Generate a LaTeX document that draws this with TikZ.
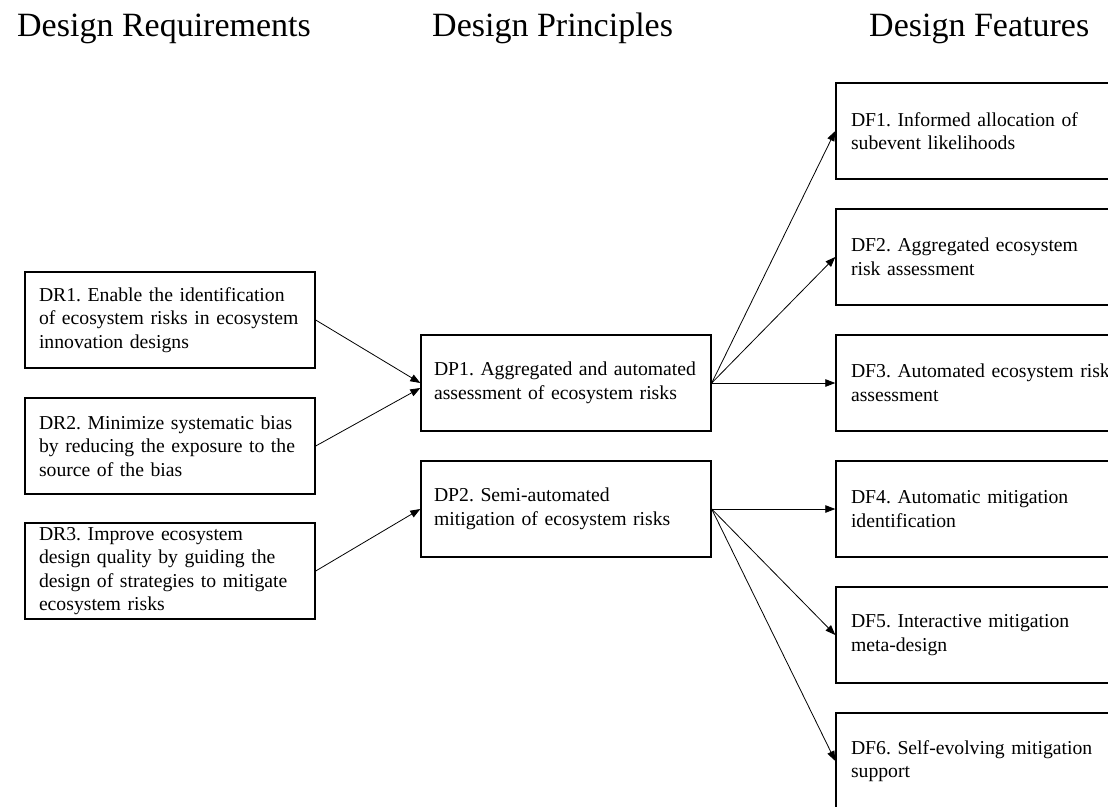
\documentclass[tikz,border=0pt]{standalone}
\usepackage{fontspec}
\setmainfont{Liberation Serif}
\usetikzlibrary{arrows.meta}
\frenchspacing
\hyphenpenalty=10000
\exhyphenpenalty=10000
\tikzset{
  box/.style={draw=black, line width=1.4pt, rectangle, minimum height=96pt,
    inner ysep=1pt, align=left,
    font=\frenchspacing\fontsize{19.7}{23.5}\selectfont},
  rbox/.style={box, minimum width=290pt, inner xsep=14pt, text width=262pt},
  pbox/.style={box, minimum width=290pt, inner xsep=13pt, text width=264pt},
  fbox/.style={box, minimum width=300pt, inner xsep=15pt, text width=270pt},
  head/.style={anchor=base west, inner sep=0pt, font=\fontsize{34}{40}\selectfont},
  conn/.style={line width=0.8pt, -{Triangle[length=10pt,width=7.5pt]}}
}
\begin{document}
\begin{tikzpicture}[x=1pt,y=-1pt]
\useasboundingbox (0,0) rectangle (1108,806);
\clip (0,0) rectangle (1108,806);

\node[head] (h1) at (17,36) {Design Requirements};
\node[head] (h2) at (432,36) {Design Principles};
\node[head] (h3) at (869,36) {Design Features};

\node[rbox] (dr1) at (170,320) {DR1. Enable the identification\\of ecosystem risks in ecosystem\\innovation designs};
\node[rbox] (dr2) at (170,446) {DR2. Minimize systematic bias\\by reducing the exposure to the\\source of the bias};
\node[rbox] (dr3) at (170,571) {DR3. Improve ecosystem\\design quality by guiding the\\design of strategies to mitigate\\ecosystem risks};

\node[pbox] (dp1) at (566,383) {\mbox{DP1. Aggregated and automated}\\assessment of ecosystem risks};
\node[pbox] (dp2) at (566,509) {DP2. Semi-automated\\mitigation of ecosystem risks};

\node[fbox] (df1) at (986,131) {DF1. Informed allocation of\\subevent likelihoods};
\node[fbox] (df2) at (986,257) {DF2. Aggregated ecosystem\\risk assessment};
\node[fbox] (df3) at (986,383) {DF3. Automated ecosystem risk\\assessment};
\node[fbox] (df4) at (986,509) {DF4. Automatic mitigation\\identification};
\node[fbox] (df5) at (986,635) {DF5. Interactive mitigation\\meta-design};
\node[fbox] (df6) at (986,761) {DF6. Self-evolving mitigation\\support};

\draw[conn] (dr1.east) -- (dp1.west);
\draw[conn] (dr2.east) -- ([yshift=-5pt]dp1.west);
\draw[conn] (dr3.east) -- (dp2.west);

\draw[conn] (dp1.east) -- (df1.west);
\draw[conn] (dp1.east) -- (df2.west);
\draw[conn] (dp1.east) -- (df3.west);
\draw[conn] (dp2.east) -- (df4.west);
\draw[conn] (dp2.east) -- (df5.west);
\draw[conn] (dp2.east) -- (df6.west);
\end{tikzpicture}
\end{document}
